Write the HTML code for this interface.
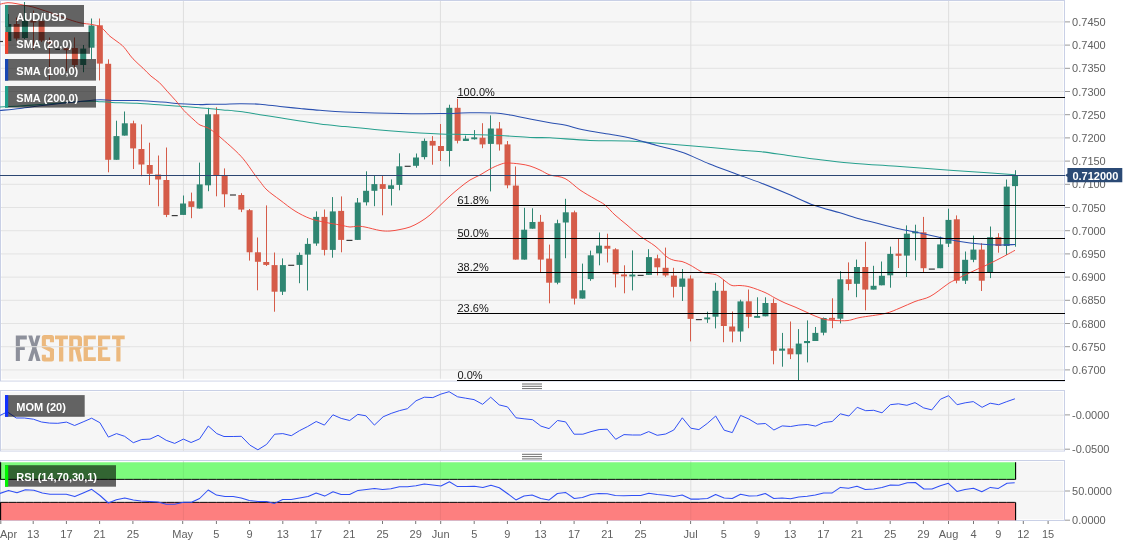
<!DOCTYPE html>
<html><head><meta charset="utf-8"><title>AUD/USD</title>
<style>
html,body{margin:0;padding:0;background:#ffffff;}
body{width:1135px;height:547px;overflow:hidden;font-family:"Liberation Sans",sans-serif;}
svg{display:block;will-change:transform;}
</style></head><body>
<svg width="1135" height="547" viewBox="0 0 1135 547" font-family="Liberation Sans, sans-serif">
<defs>
<clipPath id="cm"><rect x="0" y="0" width="1065" height="382"/></clipPath>
<clipPath id="cmo"><rect x="0" y="390" width="1065" height="62"/></clipPath>
<clipPath id="cr"><rect x="0" y="460" width="1065" height="61"/></clipPath>
</defs>
<rect x="0" y="0" width="1135" height="547" fill="#ffffff"/>
<rect x="0.5" y="0.5" width="1064.0" height="380.5" fill="#f6f6f6" stroke="#c9d0e6" stroke-width="1"/>
<rect x="1.5" y="1.5" width="1062.0" height="378.5" fill="none" stroke="#ffffff" stroke-opacity="0.75" stroke-width="1"/>
<rect x="0.5" y="390.5" width="1064.0" height="60.5" fill="#f6f6f6" stroke="#c9d0e6" stroke-width="1"/>
<rect x="1.5" y="391.5" width="1062.0" height="58.5" fill="none" stroke="#ffffff" stroke-opacity="0.75" stroke-width="1"/>
<rect x="0.5" y="460.5" width="1064.0" height="60.0" fill="#f6f6f6" stroke="#c9d0e6" stroke-width="1"/>
<rect x="1.5" y="461.5" width="1062.0" height="58.0" fill="none" stroke="#ffffff" stroke-opacity="0.75" stroke-width="1"/>
<g clip-path="url(#cm)">
<line x1="1" x2="1064" y1="21.9" y2="21.9" stroke="#e3e3e3" stroke-width="1"/>
<line x1="1" x2="1064" y1="45.1" y2="45.1" stroke="#e3e3e3" stroke-width="1"/>
<line x1="1" x2="1064" y1="68.3" y2="68.3" stroke="#e3e3e3" stroke-width="1"/>
<line x1="1" x2="1064" y1="91.5" y2="91.5" stroke="#e3e3e3" stroke-width="1"/>
<line x1="1" x2="1064" y1="114.7" y2="114.7" stroke="#e3e3e3" stroke-width="1"/>
<line x1="1" x2="1064" y1="137.9" y2="137.9" stroke="#e3e3e3" stroke-width="1"/>
<line x1="1" x2="1064" y1="161.1" y2="161.1" stroke="#e3e3e3" stroke-width="1"/>
<line x1="1" x2="1064" y1="184.3" y2="184.3" stroke="#e3e3e3" stroke-width="1"/>
<line x1="1" x2="1064" y1="207.5" y2="207.5" stroke="#e3e3e3" stroke-width="1"/>
<line x1="1" x2="1064" y1="230.7" y2="230.7" stroke="#e3e3e3" stroke-width="1"/>
<line x1="1" x2="1064" y1="253.9" y2="253.9" stroke="#e3e3e3" stroke-width="1"/>
<line x1="1" x2="1064" y1="277.1" y2="277.1" stroke="#e3e3e3" stroke-width="1"/>
<line x1="1" x2="1064" y1="300.3" y2="300.3" stroke="#e3e3e3" stroke-width="1"/>
<line x1="1" x2="1064" y1="323.5" y2="323.5" stroke="#e3e3e3" stroke-width="1"/>
<line x1="1" x2="1064" y1="346.7" y2="346.7" stroke="#e3e3e3" stroke-width="1"/>
<line x1="1" x2="1064" y1="369.9" y2="369.9" stroke="#e3e3e3" stroke-width="1"/>
<line x1="183.4" x2="183.4" y1="1" y2="380" stroke="#dedede" stroke-width="1"/>
<line x1="440.4" x2="440.4" y1="1" y2="380" stroke="#dedede" stroke-width="1"/>
<line x1="690.8" x2="690.8" y1="1" y2="380" stroke="#dedede" stroke-width="1"/>
<line x1="948.6" x2="948.6" y1="1" y2="380" stroke="#dedede" stroke-width="1"/>
</g>
<path fill="#8d909b" d="M15.8 335.6H26.8V339.5H19.9V346.5H24.8V350.1H19.9V361.0H15.8z"/><path fill="#8d909b" d="M28.2 335.6h4.0l2.1 7.6l2.1 -7.6h4.0l-4.0 12.5l4.1 12.9h-4.1l-2.1 -7.9l-2.1 7.9h-4.1l4.1 -12.9z"/><path fill="#ecb97e" d="M44.3 335.1H51.5Q54.0 335.1 54.0 337.6V342.2H49.9V339.2H45.9V345.0L54.0 349.0V359.1Q54.0 361.6 51.5 361.6H44.3Q41.8 361.6 41.8 359.1V354.7H45.9V357.6H49.9V351.8L41.8 347.7V337.6Q41.8 335.1 44.3 335.1z"/><path fill="#ecb97e" d="M55.0 335.6H67.9V339.3H63.3V361.4H59.0V339.3H55.0z"/><path fill="#ecb97e" fill-rule="evenodd" d="M69.2 335.6H78.4Q82.0 335.6 82.0 339.2V345.6Q82.0 348.4 79.7 349.2L82.1 361.4H78.0L75.0 349.8H73.3V361.4H69.2zM73.3 339.2H76.6Q77.8 339.2 77.8 340.4V345.0Q77.8 346.2 76.6 346.2H73.3z"/><path fill="#ecb97e" d="M83.6 335.6h12.2v3.7h-7.9v6.9h5.3v3.6h-5.3v7.5h7.9v3.8h-12.2z"/><path fill="#ecb97e" d="M98.0 335.6h12.2v3.7h-7.9v6.9h5.3v3.6h-5.3v7.5h7.9v3.8h-12.2z"/><path fill="#ecb97e" d="M112.0 335.6H124.7V339.3H120.5V361.4H116.3V339.3H112.0z"/>
<line x1="10" x2="130" y1="346.7" y2="346.7" stroke="#e3e3e3" stroke-width="1"/>
<rect x="1" y="378.8" width="1063" height="1.0" fill="#ffffff"/>
<g clip-path="url(#cm)" shape-rendering="auto">
<rect x="-3.00" y="40.90" width="6" height="1.2" fill="#3a3a3a"/>
<rect x="8" y="14.00" width="1" height="27.00" fill="#2f8672"/>
<rect x="5.32" y="24.00" width="6" height="17.00" fill="#2f8672"/>
<rect x="16" y="17.50" width="1" height="23.00" fill="#d55c49"/>
<rect x="13.64" y="24.00" width="6" height="14.50" fill="#d55c49"/>
<rect x="24" y="2.00" width="1" height="37.00" fill="#2f8672"/>
<rect x="21.96" y="21.00" width="6" height="17.00" fill="#2f8672"/>
<rect x="33" y="10.50" width="1" height="39.50" fill="#d55c49"/>
<rect x="30.28" y="20.55" width="6" height="1.90" fill="#d55c49"/>
<rect x="41" y="20.50" width="1" height="21.50" fill="#d55c49"/>
<rect x="38.60" y="21.00" width="6" height="19.50" fill="#d55c49"/>
<rect x="49" y="37.50" width="1" height="42.50" fill="#d55c49"/>
<rect x="46.92" y="41.30" width="6" height="1.90" fill="#d55c49"/>
<rect x="55.24" y="48.70" width="6" height="1.2" fill="#3a3a3a"/>
<rect x="66" y="48.50" width="1" height="22.70" fill="#d55c49"/>
<rect x="63.56" y="48.30" width="6" height="1.90" fill="#d55c49"/>
<rect x="74" y="37.50" width="1" height="30.50" fill="#d55c49"/>
<rect x="71.88" y="48.00" width="6" height="17.00" fill="#d55c49"/>
<rect x="83" y="45.00" width="1" height="27.20" fill="#2f8672"/>
<rect x="80.20" y="48.60" width="6" height="16.40" fill="#2f8672"/>
<rect x="91" y="18.50" width="1" height="40.70" fill="#2f8672"/>
<rect x="88.52" y="25.50" width="6" height="22.20" fill="#2f8672"/>
<rect x="99" y="18.50" width="1" height="61.90" fill="#d55c49"/>
<rect x="96.84" y="25.30" width="6" height="38.30" fill="#d55c49"/>
<rect x="108" y="59.30" width="1" height="113.00" fill="#d55c49"/>
<rect x="105.16" y="63.80" width="6" height="96.00" fill="#d55c49"/>
<rect x="116" y="120.70" width="1" height="39.10" fill="#2f8672"/>
<rect x="113.48" y="136.10" width="6" height="23.70" fill="#2f8672"/>
<rect x="124" y="111.50" width="1" height="24.10" fill="#2f8672"/>
<rect x="121.80" y="123.30" width="6" height="12.30" fill="#2f8672"/>
<rect x="133" y="120.70" width="1" height="48.30" fill="#d55c49"/>
<rect x="130.12" y="123.30" width="6" height="25.10" fill="#d55c49"/>
<rect x="141" y="124.40" width="1" height="51.80" fill="#d55c49"/>
<rect x="138.44" y="149.00" width="6" height="15.50" fill="#d55c49"/>
<rect x="149" y="142.70" width="1" height="42.30" fill="#d55c49"/>
<rect x="146.76" y="165.00" width="6" height="8.80" fill="#d55c49"/>
<rect x="158" y="155.50" width="1" height="50.80" fill="#d55c49"/>
<rect x="155.08" y="174.50" width="6" height="5.00" fill="#d55c49"/>
<rect x="166" y="147.50" width="1" height="69.60" fill="#d55c49"/>
<rect x="163.40" y="180.00" width="6" height="34.90" fill="#d55c49"/>
<rect x="171.72" y="215.00" width="6" height="1.2" fill="#3a3a3a"/>
<rect x="183" y="195.50" width="1" height="19.40" fill="#2f8672"/>
<rect x="180.04" y="203.50" width="6" height="11.40" fill="#2f8672"/>
<rect x="191" y="192.60" width="1" height="25.60" fill="#d55c49"/>
<rect x="188.36" y="201.30" width="6" height="5.60" fill="#d55c49"/>
<rect x="199" y="162.60" width="1" height="45.90" fill="#2f8672"/>
<rect x="196.68" y="184.40" width="6" height="24.10" fill="#2f8672"/>
<rect x="208" y="107.80" width="1" height="83.40" fill="#2f8672"/>
<rect x="205.00" y="114.30" width="6" height="71.00" fill="#2f8672"/>
<rect x="216" y="107.30" width="1" height="89.00" fill="#d55c49"/>
<rect x="213.32" y="114.30" width="6" height="60.70" fill="#d55c49"/>
<rect x="224" y="168.40" width="1" height="38.80" fill="#d55c49"/>
<rect x="221.64" y="175.60" width="6" height="18.70" fill="#d55c49"/>
<rect x="229.96" y="194.40" width="6" height="1.2" fill="#3a3a3a"/>
<rect x="241" y="193.20" width="1" height="18.90" fill="#d55c49"/>
<rect x="238.28" y="195.00" width="6" height="14.60" fill="#d55c49"/>
<rect x="249" y="209.00" width="1" height="51.60" fill="#d55c49"/>
<rect x="246.60" y="210.20" width="6" height="42.10" fill="#d55c49"/>
<rect x="257" y="237.50" width="1" height="52.80" fill="#d55c49"/>
<rect x="254.92" y="252.30" width="6" height="9.50" fill="#d55c49"/>
<rect x="266" y="205.40" width="1" height="60.60" fill="#d55c49"/>
<rect x="263.24" y="262.00" width="6" height="2.90" fill="#d55c49"/>
<rect x="274" y="252.50" width="1" height="59.20" fill="#d55c49"/>
<rect x="271.56" y="265.10" width="6" height="26.60" fill="#d55c49"/>
<rect x="282" y="258.40" width="1" height="36.60" fill="#2f8672"/>
<rect x="279.88" y="265.10" width="6" height="26.60" fill="#2f8672"/>
<rect x="288.20" y="264.70" width="6" height="1.2" fill="#3a3a3a"/>
<rect x="299" y="252.50" width="1" height="30.70" fill="#2f8672"/>
<rect x="296.52" y="254.90" width="6" height="10.00" fill="#2f8672"/>
<rect x="307" y="238.20" width="1" height="52.30" fill="#2f8672"/>
<rect x="304.84" y="243.90" width="6" height="10.70" fill="#2f8672"/>
<rect x="316" y="211.40" width="1" height="34.40" fill="#2f8672"/>
<rect x="313.16" y="216.90" width="6" height="26.60" fill="#2f8672"/>
<rect x="324" y="209.50" width="1" height="45.90" fill="#d55c49"/>
<rect x="321.48" y="216.90" width="6" height="33.00" fill="#d55c49"/>
<rect x="332" y="197.10" width="1" height="60.60" fill="#2f8672"/>
<rect x="329.80" y="211.40" width="6" height="38.50" fill="#2f8672"/>
<rect x="341" y="196.40" width="1" height="55.90" fill="#d55c49"/>
<rect x="338.12" y="210.90" width="6" height="29.00" fill="#d55c49"/>
<rect x="346.44" y="239.80" width="6" height="1.2" fill="#3a3a3a"/>
<rect x="357" y="198.00" width="1" height="41.90" fill="#2f8672"/>
<rect x="354.76" y="202.50" width="6" height="37.40" fill="#2f8672"/>
<rect x="366" y="171.30" width="1" height="34.20" fill="#2f8672"/>
<rect x="363.08" y="190.80" width="6" height="11.50" fill="#2f8672"/>
<rect x="374" y="175.40" width="1" height="30.80" fill="#2f8672"/>
<rect x="371.40" y="184.10" width="6" height="6.70" fill="#2f8672"/>
<rect x="382" y="175.40" width="1" height="39.90" fill="#d55c49"/>
<rect x="379.72" y="184.10" width="6" height="4.80" fill="#d55c49"/>
<rect x="391" y="179.40" width="1" height="26.10" fill="#2f8672"/>
<rect x="388.04" y="185.30" width="6" height="3.60" fill="#2f8672"/>
<rect x="399" y="153.30" width="1" height="37.00" fill="#2f8672"/>
<rect x="396.36" y="166.30" width="6" height="18.60" fill="#2f8672"/>
<rect x="404.68" y="165.70" width="6" height="1.2" fill="#3a3a3a"/>
<rect x="416" y="153.50" width="1" height="14.20" fill="#2f8672"/>
<rect x="413.00" y="157.50" width="6" height="8.30" fill="#2f8672"/>
<rect x="424" y="138.50" width="1" height="20.90" fill="#2f8672"/>
<rect x="421.32" y="140.90" width="6" height="16.20" fill="#2f8672"/>
<rect x="432" y="136.10" width="1" height="28.60" fill="#d55c49"/>
<rect x="429.64" y="140.90" width="6" height="4.70" fill="#d55c49"/>
<rect x="440" y="124.00" width="1" height="37.00" fill="#d55c49"/>
<rect x="437.96" y="146.00" width="6" height="5.00" fill="#d55c49"/>
<rect x="449" y="104.70" width="1" height="61.80" fill="#2f8672"/>
<rect x="446.28" y="107.80" width="6" height="43.20" fill="#2f8672"/>
<rect x="457" y="98.80" width="1" height="44.60" fill="#d55c49"/>
<rect x="454.60" y="107.80" width="6" height="33.00" fill="#d55c49"/>
<rect x="465" y="135.60" width="1" height="5.40" fill="#2f8672"/>
<rect x="462.92" y="138.60" width="6" height="2.40" fill="#2f8672"/>
<rect x="474" y="130.10" width="1" height="9.50" fill="#2f8672"/>
<rect x="471.24" y="137.35" width="6" height="1.90" fill="#2f8672"/>
<rect x="482" y="123.20" width="1" height="25.00" fill="#d55c49"/>
<rect x="479.56" y="137.70" width="6" height="6.70" fill="#d55c49"/>
<rect x="490" y="115.40" width="1" height="76.00" fill="#2f8672"/>
<rect x="487.88" y="128.50" width="6" height="15.40" fill="#2f8672"/>
<rect x="499" y="122.00" width="1" height="28.60" fill="#d55c49"/>
<rect x="496.20" y="128.50" width="6" height="15.90" fill="#d55c49"/>
<rect x="507" y="141.00" width="1" height="47.30" fill="#d55c49"/>
<rect x="504.52" y="144.40" width="6" height="40.90" fill="#d55c49"/>
<rect x="515" y="166.50" width="1" height="93.10" fill="#d55c49"/>
<rect x="512.84" y="185.60" width="6" height="74.00" fill="#d55c49"/>
<rect x="524" y="207.80" width="1" height="51.80" fill="#2f8672"/>
<rect x="521.16" y="229.70" width="6" height="29.90" fill="#2f8672"/>
<rect x="532" y="208.30" width="1" height="20.40" fill="#2f8672"/>
<rect x="529.48" y="222.00" width="6" height="6.70" fill="#2f8672"/>
<rect x="540" y="214.90" width="1" height="58.00" fill="#d55c49"/>
<rect x="537.80" y="221.80" width="6" height="37.80" fill="#d55c49"/>
<rect x="549" y="244.60" width="1" height="58.70" fill="#d55c49"/>
<rect x="546.12" y="258.60" width="6" height="24.10" fill="#d55c49"/>
<rect x="557" y="219.70" width="1" height="64.60" fill="#2f8672"/>
<rect x="554.44" y="223.20" width="6" height="59.50" fill="#2f8672"/>
<rect x="565" y="198.80" width="1" height="59.40" fill="#2f8672"/>
<rect x="562.76" y="212.30" width="6" height="10.20" fill="#2f8672"/>
<rect x="574" y="210.60" width="1" height="93.90" fill="#d55c49"/>
<rect x="571.08" y="212.30" width="6" height="86.30" fill="#d55c49"/>
<rect x="582" y="263.60" width="1" height="35.00" fill="#2f8672"/>
<rect x="579.40" y="290.30" width="6" height="8.30" fill="#2f8672"/>
<rect x="590" y="250.60" width="1" height="30.20" fill="#2f8672"/>
<rect x="587.72" y="255.30" width="6" height="23.80" fill="#2f8672"/>
<rect x="599" y="232.50" width="1" height="32.80" fill="#2f8672"/>
<rect x="596.04" y="245.60" width="6" height="7.80" fill="#2f8672"/>
<rect x="607" y="233.70" width="1" height="28.80" fill="#d55c49"/>
<rect x="604.36" y="245.80" width="6" height="2.90" fill="#d55c49"/>
<rect x="615" y="248.20" width="1" height="39.20" fill="#d55c49"/>
<rect x="612.68" y="249.30" width="6" height="25.00" fill="#d55c49"/>
<rect x="624" y="265.30" width="1" height="28.00" fill="#d55c49"/>
<rect x="621.00" y="274.45" width="6" height="1.90" fill="#d55c49"/>
<rect x="632" y="250.40" width="1" height="40.00" fill="#2f8672"/>
<rect x="629.32" y="274.55" width="6" height="1.90" fill="#2f8672"/>
<rect x="637.64" y="274.80" width="6" height="1.2" fill="#3a3a3a"/>
<rect x="648" y="249.20" width="1" height="25.70" fill="#2f8672"/>
<rect x="645.96" y="257.10" width="6" height="17.80" fill="#2f8672"/>
<rect x="657" y="254.70" width="1" height="20.70" fill="#d55c49"/>
<rect x="654.28" y="258.30" width="6" height="9.00" fill="#d55c49"/>
<rect x="665" y="247.60" width="1" height="29.20" fill="#d55c49"/>
<rect x="662.60" y="267.80" width="6" height="7.60" fill="#d55c49"/>
<rect x="673" y="267.80" width="1" height="29.70" fill="#d55c49"/>
<rect x="670.92" y="275.60" width="6" height="11.20" fill="#d55c49"/>
<rect x="682" y="269.00" width="1" height="32.00" fill="#2f8672"/>
<rect x="679.24" y="278.50" width="6" height="8.30" fill="#2f8672"/>
<rect x="690" y="275.40" width="1" height="66.00" fill="#d55c49"/>
<rect x="687.56" y="278.50" width="6" height="40.40" fill="#d55c49"/>
<rect x="695.88" y="319.00" width="6" height="1.2" fill="#3a3a3a"/>
<rect x="707" y="311.70" width="1" height="11.20" fill="#2f8672"/>
<rect x="704.20" y="317.45" width="6" height="1.90" fill="#2f8672"/>
<rect x="715" y="282.70" width="1" height="45.70" fill="#2f8672"/>
<rect x="712.52" y="290.80" width="6" height="25.90" fill="#2f8672"/>
<rect x="723" y="279.70" width="1" height="62.50" fill="#d55c49"/>
<rect x="720.84" y="290.80" width="6" height="35.20" fill="#d55c49"/>
<rect x="732" y="311.50" width="1" height="30.90" fill="#d55c49"/>
<rect x="729.16" y="326.50" width="6" height="5.00" fill="#d55c49"/>
<rect x="740" y="299.70" width="1" height="42.00" fill="#2f8672"/>
<rect x="737.48" y="301.40" width="6" height="30.10" fill="#2f8672"/>
<rect x="748" y="289.50" width="1" height="38.70" fill="#d55c49"/>
<rect x="745.80" y="301.30" width="6" height="15.50" fill="#d55c49"/>
<rect x="757" y="297.30" width="1" height="20.20" fill="#2f8672"/>
<rect x="754.12" y="315.95" width="6" height="1.90" fill="#2f8672"/>
<rect x="765" y="297.30" width="1" height="19.00" fill="#2f8672"/>
<rect x="762.44" y="303.00" width="6" height="13.30" fill="#2f8672"/>
<rect x="773" y="298.50" width="1" height="65.80" fill="#d55c49"/>
<rect x="770.76" y="303.00" width="6" height="47.80" fill="#d55c49"/>
<rect x="782" y="332.90" width="1" height="33.80" fill="#2f8672"/>
<rect x="779.08" y="348.60" width="6" height="2.10" fill="#2f8672"/>
<rect x="790" y="321.50" width="1" height="37.60" fill="#d55c49"/>
<rect x="787.40" y="348.40" width="6" height="5.90" fill="#d55c49"/>
<rect x="798" y="329.10" width="1" height="51.10" fill="#2f8672"/>
<rect x="795.72" y="343.60" width="6" height="10.70" fill="#2f8672"/>
<rect x="807" y="320.40" width="1" height="42.00" fill="#2f8672"/>
<rect x="804.04" y="341.00" width="6" height="2.10" fill="#2f8672"/>
<rect x="815" y="327.00" width="1" height="14.00" fill="#2f8672"/>
<rect x="812.36" y="332.90" width="6" height="8.10" fill="#2f8672"/>
<rect x="823" y="317.50" width="1" height="17.80" fill="#2f8672"/>
<rect x="820.68" y="318.00" width="6" height="14.70" fill="#2f8672"/>
<rect x="832" y="298.30" width="1" height="29.90" fill="#d55c49"/>
<rect x="829.00" y="317.85" width="6" height="1.90" fill="#d55c49"/>
<rect x="840" y="271.20" width="1" height="52.20" fill="#2f8672"/>
<rect x="837.32" y="279.30" width="6" height="39.40" fill="#2f8672"/>
<rect x="848" y="262.40" width="1" height="27.90" fill="#d55c49"/>
<rect x="845.64" y="279.30" width="6" height="4.70" fill="#d55c49"/>
<rect x="856" y="259.60" width="1" height="37.60" fill="#2f8672"/>
<rect x="853.96" y="267.00" width="6" height="16.80" fill="#2f8672"/>
<rect x="865" y="241.80" width="1" height="68.50" fill="#d55c49"/>
<rect x="862.28" y="267.00" width="6" height="22.60" fill="#d55c49"/>
<rect x="873" y="265.80" width="1" height="23.80" fill="#2f8672"/>
<rect x="870.60" y="285.80" width="6" height="3.80" fill="#2f8672"/>
<rect x="881" y="261.50" width="1" height="23.80" fill="#2f8672"/>
<rect x="878.92" y="275.80" width="6" height="9.50" fill="#2f8672"/>
<rect x="890" y="246.60" width="1" height="41.10" fill="#2f8672"/>
<rect x="887.24" y="253.90" width="6" height="21.40" fill="#2f8672"/>
<rect x="898" y="239.00" width="1" height="29.00" fill="#d55c49"/>
<rect x="895.56" y="253.60" width="6" height="2.20" fill="#d55c49"/>
<rect x="906" y="225.40" width="1" height="51.60" fill="#2f8672"/>
<rect x="903.88" y="233.70" width="6" height="21.90" fill="#2f8672"/>
<rect x="915" y="224.70" width="1" height="35.70" fill="#2f8672"/>
<rect x="912.20" y="231.45" width="6" height="1.90" fill="#2f8672"/>
<rect x="923" y="216.90" width="1" height="56.00" fill="#d55c49"/>
<rect x="920.52" y="232.30" width="6" height="35.90" fill="#d55c49"/>
<rect x="928.84" y="268.50" width="6" height="1.2" fill="#3a3a3a"/>
<rect x="940" y="236.60" width="1" height="31.60" fill="#2f8672"/>
<rect x="937.16" y="244.40" width="6" height="23.80" fill="#2f8672"/>
<rect x="948" y="208.70" width="1" height="38.30" fill="#2f8672"/>
<rect x="945.48" y="219.90" width="6" height="23.80" fill="#2f8672"/>
<rect x="956" y="215.40" width="1" height="67.90" fill="#d55c49"/>
<rect x="953.80" y="219.30" width="6" height="61.40" fill="#d55c49"/>
<rect x="965" y="251.50" width="1" height="32.50" fill="#2f8672"/>
<rect x="962.12" y="259.80" width="6" height="20.90" fill="#2f8672"/>
<rect x="973" y="235.60" width="1" height="26.60" fill="#2f8672"/>
<rect x="970.44" y="249.60" width="6" height="10.20" fill="#2f8672"/>
<rect x="981" y="243.20" width="1" height="47.80" fill="#d55c49"/>
<rect x="978.76" y="249.60" width="6" height="31.10" fill="#d55c49"/>
<rect x="990" y="226.50" width="1" height="51.60" fill="#2f8672"/>
<rect x="987.08" y="237.20" width="6" height="35.00" fill="#2f8672"/>
<rect x="998" y="233.20" width="1" height="19.50" fill="#d55c49"/>
<rect x="995.40" y="237.20" width="6" height="8.80" fill="#d55c49"/>
<rect x="1006" y="179.50" width="1" height="75.50" fill="#2f8672"/>
<rect x="1003.72" y="186.60" width="6" height="59.40" fill="#2f8672"/>
<rect x="1015" y="170.20" width="1" height="76.50" fill="#2f8672"/>
<rect x="1012.04" y="175.60" width="6" height="10.50" fill="#2f8672"/>
</g>
<g clip-path="url(#cm)">
<path fill="none" stroke="#27a08e" stroke-width="1.05" stroke-linejoin="round" d="M0.00 107.00C3.33 106.85 13.33 106.52 20.00 106.10C26.67 105.68 33.33 105.02 40.00 104.50C46.67 103.98 53.33 103.50 60.00 103.00C66.67 102.50 74.17 101.78 80.00 101.50C85.83 101.22 91.67 101.27 95.00 101.30C98.33 101.33 97.17 101.52 100.00 101.70C102.83 101.88 105.83 102.13 112.00 102.40C118.17 102.67 128.67 102.87 137.00 103.30C145.33 103.73 154.83 104.52 162.00 105.00C169.17 105.48 173.83 105.73 180.00 106.20C186.17 106.67 193.83 107.38 199.00 107.80C204.17 108.22 207.00 108.35 211.00 108.70C215.00 109.05 218.17 109.42 223.00 109.90C227.83 110.38 233.83 110.80 240.00 111.60C246.17 112.40 253.33 113.67 260.00 114.70C266.67 115.73 273.33 116.75 280.00 117.80C286.67 118.85 293.33 119.97 300.00 121.00C306.67 122.03 312.50 123.07 320.00 124.00C327.50 124.93 335.00 125.60 345.00 126.60C355.00 127.60 367.50 128.93 380.00 130.00C392.50 131.07 410.00 132.33 420.00 133.00C430.00 133.67 431.67 133.75 440.00 134.00C448.33 134.25 460.00 134.25 470.00 134.50C480.00 134.75 490.00 135.00 500.00 135.50C510.00 136.00 521.67 137.12 530.00 137.50C538.33 137.88 540.00 137.32 550.00 137.80C560.00 138.28 576.83 139.88 590.00 140.40C603.17 140.92 618.00 140.47 629.00 140.90C640.00 141.33 645.83 142.20 656.00 143.00C666.17 143.80 676.83 144.58 690.00 145.70C703.17 146.82 723.08 148.68 735.00 149.70C746.92 150.72 752.67 150.83 761.50 151.80C770.33 152.77 779.25 154.32 788.00 155.50C796.75 156.68 803.67 157.67 814.00 158.90C824.33 160.13 835.67 161.63 850.00 162.90C864.33 164.17 885.00 165.40 900.00 166.50C915.00 167.60 926.67 168.53 940.00 169.50C953.33 170.47 967.50 171.43 980.00 172.30C992.50 173.17 1009.17 174.30 1015.00 174.70"/>
<path fill="none" stroke="#2a50b0" stroke-width="1.05" stroke-linejoin="round" d="M0.00 110.50C3.33 110.15 13.33 109.18 20.00 108.40C26.67 107.62 33.33 106.62 40.00 105.80C46.67 104.98 53.33 104.23 60.00 103.50C66.67 102.77 73.33 102.03 80.00 101.40C86.67 100.77 94.67 99.85 100.00 99.70C105.33 99.55 105.83 100.35 112.00 100.50C118.17 100.65 128.67 100.33 137.00 100.60C145.33 100.87 154.83 101.58 162.00 102.10C169.17 102.62 173.83 103.28 180.00 103.70C186.17 104.12 193.83 104.52 199.00 104.60C204.17 104.68 207.00 104.25 211.00 104.20C215.00 104.15 218.17 104.38 223.00 104.30C227.83 104.22 233.83 103.72 240.00 103.70C246.17 103.68 253.33 103.73 260.00 104.20C266.67 104.67 273.33 105.78 280.00 106.50C286.67 107.22 293.33 107.87 300.00 108.50C306.67 109.13 312.50 109.72 320.00 110.30C327.50 110.88 331.67 111.47 345.00 112.00C358.33 112.53 384.17 113.23 400.00 113.50C415.83 113.77 428.33 113.72 440.00 113.60C451.67 113.48 460.83 112.90 470.00 112.80C479.17 112.70 488.33 112.63 495.00 113.00C501.67 113.37 504.17 114.00 510.00 115.00C515.83 116.00 523.33 117.72 530.00 119.00C536.67 120.28 544.00 121.65 550.00 122.70C556.00 123.75 560.50 124.12 566.00 125.30C571.50 126.48 575.67 128.30 583.00 129.80C590.33 131.30 602.33 132.97 610.00 134.30C617.67 135.63 621.33 135.98 629.00 137.80C636.67 139.62 647.17 142.78 656.00 145.20C664.83 147.62 673.17 149.22 682.00 152.30C690.83 155.38 700.17 160.18 709.00 163.70C717.83 167.22 726.25 170.15 735.00 173.40C743.75 176.65 752.67 179.77 761.50 183.20C770.33 186.63 779.25 190.33 788.00 194.00C796.75 197.67 805.33 202.07 814.00 205.20C822.67 208.33 832.33 210.50 840.00 212.80C847.67 215.10 853.33 217.13 860.00 219.00C866.67 220.87 873.33 222.33 880.00 224.00C886.67 225.67 893.33 227.50 900.00 229.00C906.67 230.50 913.33 231.58 920.00 233.00C926.67 234.42 933.33 236.08 940.00 237.50C946.67 238.92 953.33 240.42 960.00 241.50C966.67 242.58 973.33 243.42 980.00 244.00C986.67 244.58 994.17 244.92 1000.00 245.00C1005.83 245.08 1012.50 244.58 1015.00 244.50"/>
<path fill="none" stroke="#f2453a" stroke-width="0.95" stroke-linejoin="round" d="M0.00 4.20C1.33 3.95 5.33 2.80 8.00 2.70C10.67 2.60 13.28 3.17 16.00 3.60C18.72 4.03 21.47 4.73 24.30 5.30C27.13 5.87 30.22 6.30 33.00 7.00C35.78 7.70 38.17 8.58 41.00 9.50C43.83 10.42 47.17 11.50 50.00 12.50C52.83 13.50 55.33 14.50 58.00 15.50C60.67 16.50 62.33 17.28 66.00 18.50C69.67 19.72 75.67 21.80 80.00 22.80C84.33 23.80 88.67 23.85 92.00 24.50C95.33 25.15 97.83 25.62 100.00 26.70C102.17 27.78 103.33 29.40 105.00 31.00C106.67 32.60 107.83 34.43 110.00 36.30C112.17 38.17 115.67 40.37 118.00 42.20C120.33 44.03 121.50 44.53 124.00 47.30C126.50 50.07 129.83 55.32 133.00 58.80C136.17 62.28 140.00 65.32 143.00 68.20C146.00 71.08 148.27 73.70 151.00 76.10C153.73 78.50 156.63 80.00 159.40 82.60C162.17 85.20 164.87 88.68 167.60 91.70C170.33 94.72 173.07 97.55 175.80 100.70C178.53 103.85 180.97 107.38 184.00 110.60C187.03 113.82 191.33 117.60 194.00 120.00C196.67 122.40 197.83 123.75 200.00 125.00C202.17 126.25 205.00 126.58 207.00 127.50C209.00 128.42 209.83 128.92 212.00 130.50C214.17 132.08 215.17 132.70 220.00 137.00C224.83 141.30 235.17 149.97 241.00 156.30C246.83 162.63 251.83 170.80 255.00 175.00C258.17 179.20 258.00 179.00 260.00 181.50C262.00 184.00 263.67 186.92 267.00 190.00C270.33 193.08 275.33 196.50 280.00 200.00C284.67 203.50 290.00 207.92 295.00 211.00C300.00 214.08 305.00 216.62 310.00 218.50C315.00 220.38 320.00 221.22 325.00 222.30C330.00 223.38 335.83 224.22 340.00 225.00C344.17 225.78 347.17 226.80 350.00 227.00C352.83 227.20 354.50 226.20 357.00 226.20C359.50 226.20 361.17 226.28 365.00 227.00C368.83 227.72 375.83 229.83 380.00 230.50C384.17 231.17 386.67 231.17 390.00 231.00C393.33 230.83 396.67 230.17 400.00 229.50C403.33 228.83 406.67 228.25 410.00 227.00C413.33 225.75 416.67 224.00 420.00 222.00C423.33 220.00 426.67 217.75 430.00 215.00C433.33 212.25 436.67 208.67 440.00 205.50C443.33 202.33 446.67 199.00 450.00 196.00C453.33 193.00 456.67 190.17 460.00 187.50C463.33 184.83 466.67 182.08 470.00 180.00C473.33 177.92 476.67 176.83 480.00 175.00C483.33 173.17 486.67 170.75 490.00 169.00C493.33 167.25 497.17 165.50 500.00 164.50C502.83 163.50 503.67 163.08 507.00 163.00C510.33 162.92 516.17 163.50 520.00 164.00C523.83 164.50 526.67 165.00 530.00 166.00C533.33 167.00 536.67 168.50 540.00 170.00C543.33 171.50 545.83 173.58 550.00 175.00C554.17 176.42 560.00 176.00 565.00 178.50C570.00 181.00 575.00 186.58 580.00 190.00C585.00 193.42 590.83 196.50 595.00 199.00C599.17 201.50 601.67 202.33 605.00 205.00C608.33 207.67 611.33 211.67 615.00 215.00C618.67 218.33 622.83 221.50 627.00 225.00C631.17 228.50 635.33 232.50 640.00 236.00C644.67 239.50 650.50 242.50 655.00 246.00C659.50 249.50 663.67 254.58 667.00 257.00C670.33 259.42 672.50 259.75 675.00 260.50C677.50 261.25 679.50 260.75 682.00 261.50C684.50 262.25 687.00 263.42 690.00 265.00C693.00 266.58 697.50 269.67 700.00 271.00C702.50 272.33 702.50 272.42 705.00 273.00C707.50 273.58 712.50 273.83 715.00 274.50C717.50 275.17 718.33 275.92 720.00 277.00C721.67 278.08 723.00 279.58 725.00 281.00C727.00 282.42 729.50 284.75 732.00 285.50C734.50 286.25 737.00 285.25 740.00 285.50C743.00 285.75 745.83 285.83 750.00 287.00C754.17 288.17 760.83 290.67 765.00 292.50C769.17 294.33 771.67 296.25 775.00 298.00C778.33 299.75 781.67 301.50 785.00 303.00C788.33 304.50 791.67 305.58 795.00 307.00C798.33 308.42 801.67 310.00 805.00 311.50C808.33 313.00 811.67 314.67 815.00 316.00C818.33 317.33 821.67 318.75 825.00 319.50C828.33 320.25 831.17 320.33 835.00 320.50C838.83 320.67 843.83 321.00 848.00 320.50C852.17 320.00 853.83 318.67 860.00 317.50C866.17 316.33 878.33 315.08 885.00 313.50C891.67 311.92 895.00 310.00 900.00 308.00C905.00 306.00 910.00 303.42 915.00 301.50C920.00 299.58 925.00 299.08 930.00 296.50C935.00 293.92 941.67 288.33 945.00 286.00C948.33 283.67 948.17 283.58 950.00 282.50C951.83 281.42 953.50 280.75 956.00 279.50C958.50 278.25 961.83 276.53 965.00 275.00C968.17 273.47 971.67 271.83 975.00 270.30C978.33 268.77 980.83 267.78 985.00 265.80C989.17 263.82 995.00 260.98 1000.00 258.40C1005.00 255.82 1012.50 251.65 1015.00 250.30"/>
</g>
<line x1="457" x2="1065" y1="97.50" y2="97.50" stroke="#000000" stroke-width="1" shape-rendering="crispEdges"/>
<text x="457.5" y="96.2" font-size="11" fill="#151515">100.0%</text>
<line x1="457" x2="1065" y1="205.50" y2="205.50" stroke="#000000" stroke-width="1" shape-rendering="crispEdges"/>
<text x="457.5" y="204.2" font-size="11" fill="#151515">61.8%</text>
<line x1="457" x2="1065" y1="238.50" y2="238.50" stroke="#000000" stroke-width="1" shape-rendering="crispEdges"/>
<text x="457.5" y="237.2" font-size="11" fill="#151515">50.0%</text>
<line x1="457" x2="1065" y1="272.50" y2="272.50" stroke="#000000" stroke-width="1" shape-rendering="crispEdges"/>
<text x="457.5" y="270.5" font-size="11" fill="#151515">38.2%</text>
<line x1="457" x2="1065" y1="313.50" y2="313.50" stroke="#000000" stroke-width="1" shape-rendering="crispEdges"/>
<text x="457.5" y="311.5" font-size="11" fill="#151515">23.6%</text>
<line x1="457" x2="1065" y1="380.50" y2="380.50" stroke="#000000" stroke-width="1" shape-rendering="crispEdges"/>
<text x="457.5" y="378.5" font-size="11" fill="#151515">0.0%</text>
<line x1="0" x2="1065" y1="175.5" y2="175.5" stroke="#2b4672" stroke-width="1" shape-rendering="crispEdges"/>
<g clip-path="url(#cmo)">
<line x1="1" x2="1064" y1="415.2" y2="415.2" stroke="#e3e3e3" stroke-width="1"/>
<line x1="1" x2="1064" y1="449.4" y2="449.4" stroke="#e3e3e3" stroke-width="1"/>
<line x1="183.4" x2="183.4" y1="391" y2="451" stroke="#dedede" stroke-width="1"/>
<line x1="440.4" x2="440.4" y1="391" y2="451" stroke="#dedede" stroke-width="1"/>
<line x1="690.8" x2="690.8" y1="391" y2="451" stroke="#dedede" stroke-width="1"/>
<line x1="948.6" x2="948.6" y1="391" y2="451" stroke="#dedede" stroke-width="1"/>
<polyline fill="none" stroke="#3050f5" stroke-width="1.00" stroke-linejoin="round"  points="0.0,415.4 5.0,413.0 8.1,412.4 16.2,418.0 24.3,418.0 33.4,419.2 41.5,422.0 49.6,423.1 57.8,423.3 66.5,422.1 74.6,425.5 83.1,421.9 91.6,418.2 99.9,422.7 108.4,437.1 116.5,433.6 124.6,436.3 133.3,442.7 141.8,439.5 150.0,439.1 158.0,435.3 166.2,440.3 174.7,443.4 183.4,439.1 191.1,442.5 199.6,438.9 208.3,426.0 216.8,433.6 224.0,436.5 233.2,436.5 241.3,436.3 250.0,445.2 257.9,449.8 266.6,444.4 274.7,434.2 282.8,433.6 291.3,435.7 299.6,430.6 307.7,426.5 316.2,421.5 324.4,425.1 332.9,414.8 341.2,418.4 349.7,420.5 357.8,414.4 365.9,415.8 374.4,425.1 383.1,416.8 391.2,413.4 399.3,410.7 407.4,408.7 416.0,400.8 424.3,397.2 432.8,397.6 440.9,394.1 449.1,391.7 457.6,396.8 465.7,398.2 474.0,399.6 482.6,404.3 490.7,397.2 499.2,404.9 507.5,406.9 516.0,417.8 524.1,418.8 532.6,419.7 540.9,426.1 549.0,428.6 557.5,420.5 565.6,421.9 574.1,434.2 582.9,434.2 591.0,431.6 599.1,429.6 607.2,429.2 615.7,439.3 624.0,434.6 632.5,435.0 640.6,435.0 648.7,431.6 657.2,435.3 665.7,434.0 673.8,430.0 682.3,417.8 690.8,428.2 698.9,429.6 707.2,423.5 715.7,416.0 724.2,430.2 732.3,432.6 740.6,415.4 748.8,419.0 757.3,424.1 765.4,423.5 773.9,430.0 782.2,425.9 790.7,426.5 798.8,425.1 807.3,424.5 815.6,426.1 823.7,422.5 832.2,421.5 840.3,413.8 848.9,416.0 857.2,407.3 865.7,410.7 873.7,410.3 882.0,412.8 890.3,404.7 898.4,403.8 906.9,405.3 915.0,402.6 923.7,407.9 931.8,409.9 940.5,399.2 948.6,395.7 957.1,404.7 965.2,402.8 973.3,401.6 982.1,407.3 990.2,403.2 998.7,404.7 1006.8,401.6 1014.9,398.8"/>
</g>
<g clip-path="url(#cr)">
<line x1="1" x2="1064" y1="491.3" y2="491.3" stroke="#e3e3e3" stroke-width="1"/>
<line x1="183.4" x2="183.4" y1="461" y2="520" stroke="#dedede" stroke-width="1"/>
<line x1="440.4" x2="440.4" y1="461" y2="520" stroke="#dedede" stroke-width="1"/>
<line x1="690.8" x2="690.8" y1="461" y2="520" stroke="#dedede" stroke-width="1"/>
<line x1="948.6" x2="948.6" y1="461" y2="520" stroke="#dedede" stroke-width="1"/>
<rect x="0.5" y="462.3" width="1015.1" height="17.0" fill="#7dfb7d"/>
<rect x="0.5" y="502.5" width="1015.1" height="17.8" fill="#fd7f7f"/>
<line x1="183.4" x2="183.4" y1="462.3" y2="479" stroke="#000" stroke-opacity="0.06" stroke-width="1"/>
<line x1="183.4" x2="183.4" y1="503" y2="520" stroke="#000" stroke-opacity="0.06" stroke-width="1"/>
<line x1="440.4" x2="440.4" y1="462.3" y2="479" stroke="#000" stroke-opacity="0.06" stroke-width="1"/>
<line x1="440.4" x2="440.4" y1="503" y2="520" stroke="#000" stroke-opacity="0.06" stroke-width="1"/>
<line x1="690.8" x2="690.8" y1="462.3" y2="479" stroke="#000" stroke-opacity="0.06" stroke-width="1"/>
<line x1="690.8" x2="690.8" y1="503" y2="520" stroke="#000" stroke-opacity="0.06" stroke-width="1"/>
<line x1="948.6" x2="948.6" y1="462.3" y2="479" stroke="#000" stroke-opacity="0.06" stroke-width="1"/>
<line x1="948.6" x2="948.6" y1="503" y2="520" stroke="#000" stroke-opacity="0.06" stroke-width="1"/>
<path d="M0.6 462.3V479.4M1015.6 479.4V462.3" fill="none" stroke="#000" stroke-width="1.1"/>
<path d="M0.6 520.3V502.4M1015.6 502.4V520.3" fill="none" stroke="#000" stroke-width="1.1"/>
<path d="M0.4 479.4H1015.6M0.4 502.4H1015.6" stroke="#000" stroke-opacity="0.72" stroke-width="1"/>
<line x1="0.4" x2="1015.6" y1="479.4" y2="479.4" stroke="#000" stroke-opacity="0.6" stroke-width="1" stroke-dasharray="7.52 0.8" stroke-dashoffset="0"/>
<line x1="0.4" x2="1015.6" y1="502.4" y2="502.4" stroke="#000" stroke-opacity="0.6" stroke-width="1" stroke-dasharray="7.52 0.8" stroke-dashoffset="0"/>
<polyline fill="none" stroke="#3050f5" stroke-width="1.05" stroke-linejoin="round"  points="0.0,493.4 8.5,490.4 17.0,492.8 25.4,489.8 33.9,490.2 42.3,493.0 50.0,494.2 58.5,494.2 66.3,494.3 74.8,496.6 83.2,493.0 91.7,489.3 100.0,495.5 108.3,503.0 116.4,499.8 124.8,498.0 133.3,500.0 141.0,501.0 149.5,501.5 158.1,502.0 166.2,504.2 174.7,504.2 183.4,502.2 191.5,502.2 199.6,498.5 208.2,490.0 216.5,495.1 225.0,496.5 233.1,496.5 241.2,497.9 249.3,500.6 258.0,501.4 266.5,501.6 274.6,503.4 282.7,499.5 291.2,499.5 299.5,498.1 308.1,496.5 316.2,493.1 324.7,496.1 333.0,491.8 341.1,494.5 349.6,494.5 358.1,490.4 366.4,489.4 374.5,488.6 382.6,489.4 390.9,488.8 399.4,486.8 407.5,486.8 416.0,485.8 424.3,483.9 432.8,485.0 440.9,486.0 449.4,481.7 457.5,486.6 466.3,486.4 474.4,486.2 482.9,487.4 491.0,485.2 499.3,487.8 507.4,493.5 515.9,499.9 524.0,496.1 532.1,495.1 540.8,498.5 548.9,500.1 557.4,493.5 565.5,492.4 574.3,498.5 582.4,497.5 590.9,494.5 598.7,493.5 607.2,493.7 615.3,495.5 623.8,495.7 632.1,495.5 640.7,495.5 648.8,493.3 657.3,494.5 665.6,495.3 674.1,496.5 682.2,495.1 690.7,499.1 699.4,499.1 707.5,498.5 715.6,494.5 724.1,498.1 732.2,498.5 740.6,494.3 749.1,495.9 757.2,495.7 765.3,493.5 773.8,498.5 782.1,498.1 790.6,498.7 798.7,496.9 807.2,496.3 815.3,495.1 823.6,492.9 831.9,493.1 840.4,487.4 848.5,488.2 857.0,486.2 865.3,489.4 873.8,489.0 881.9,487.6 890.4,485.0 898.8,485.2 907.3,482.7 915.4,482.5 923.9,489.0 932.0,489.0 940.3,485.8 948.4,483.3 956.9,491.4 965.0,489.4 973.5,488.2 981.8,491.8 990.3,487.4 998.4,488.4 1007.0,483.3 1014.7,482.7"/>
</g>
<line x1="522" x2="542" y1="384.0" y2="384.0" stroke="#5c5c5c" stroke-width="0.9"/>
<line x1="522" x2="542" y1="386.3" y2="386.3" stroke="#5c5c5c" stroke-width="0.9"/>
<line x1="522" x2="542" y1="388.6" y2="388.6" stroke="#5c5c5c" stroke-width="0.9"/>
<line x1="522" x2="542" y1="454.3" y2="454.3" stroke="#5c5c5c" stroke-width="0.9"/>
<line x1="522" x2="542" y1="456.6" y2="456.6" stroke="#5c5c5c" stroke-width="0.9"/>
<line x1="522" x2="542" y1="458.9" y2="458.9" stroke="#5c5c5c" stroke-width="0.9"/>
<rect x="5.0" y="5.0" width="79.0" height="21.8" fill="#000000" fill-opacity="0.595"/>
<rect x="5.0" y="5.0" width="3.2" height="21.8" fill="#27937f"/>
<text x="16.3" y="20.75" font-size="11" font-weight="bold" fill="#ffffff">AUD/USD</text>
<rect x="5.0" y="32.0" width="85.0" height="21.8" fill="#000000" fill-opacity="0.595"/>
<rect x="5.0" y="32.0" width="3.2" height="21.8" fill="#f0432f"/>
<text x="16.3" y="47.90" font-size="11" font-weight="bold" fill="#ffffff">SMA (20,0)</text>
<rect x="5.0" y="59.0" width="91.0" height="21.6" fill="#000000" fill-opacity="0.595"/>
<rect x="5.0" y="59.0" width="3.2" height="21.6" fill="#1746b3"/>
<text x="16.3" y="74.90" font-size="11" font-weight="bold" fill="#ffffff">SMA (100,0)</text>
<rect x="5.0" y="86.0" width="91.0" height="21.6" fill="#000000" fill-opacity="0.595"/>
<rect x="5.0" y="86.0" width="3.2" height="21.6" fill="#1fa08c"/>
<text x="16.3" y="101.90" font-size="11" font-weight="bold" fill="#ffffff">SMA (200,0)</text>
<rect x="5.0" y="395.1" width="79.7" height="21.7" fill="#000000" fill-opacity="0.595"/>
<rect x="5.0" y="395.1" width="3.2" height="21.7" fill="#1030ff"/>
<text x="16.3" y="410.55" font-size="11" font-weight="bold" fill="#ffffff">MOM (20)</text>
<rect x="5.0" y="465.2" width="111.0" height="21.5" fill="#000000" fill-opacity="0.595"/>
<rect x="5.0" y="465.2" width="3.2" height="21.5" fill="#00f500"/>
<text x="16.3" y="480.55" font-size="11" font-weight="bold" fill="#ffffff">RSI (14,70,30,1)</text>
<line x1="1065" x2="1070" y1="21.9" y2="21.9" stroke="#999999" stroke-width="1"/>
<text x="1072.1" y="25.9" font-size="11" fill="#606060">0.7450</text>
<line x1="1065" x2="1070" y1="45.1" y2="45.1" stroke="#999999" stroke-width="1"/>
<text x="1072.1" y="49.1" font-size="11" fill="#606060">0.7400</text>
<line x1="1065" x2="1070" y1="68.3" y2="68.3" stroke="#999999" stroke-width="1"/>
<text x="1072.1" y="72.3" font-size="11" fill="#606060">0.7350</text>
<line x1="1065" x2="1070" y1="91.5" y2="91.5" stroke="#999999" stroke-width="1"/>
<text x="1072.1" y="95.5" font-size="11" fill="#606060">0.7300</text>
<line x1="1065" x2="1070" y1="114.7" y2="114.7" stroke="#999999" stroke-width="1"/>
<text x="1072.1" y="118.7" font-size="11" fill="#606060">0.7250</text>
<line x1="1065" x2="1070" y1="137.9" y2="137.9" stroke="#999999" stroke-width="1"/>
<text x="1072.1" y="141.9" font-size="11" fill="#606060">0.7200</text>
<line x1="1065" x2="1070" y1="161.1" y2="161.1" stroke="#999999" stroke-width="1"/>
<text x="1072.1" y="165.1" font-size="11" fill="#606060">0.7150</text>
<line x1="1065" x2="1070" y1="184.3" y2="184.3" stroke="#999999" stroke-width="1"/>
<text x="1072.1" y="188.3" font-size="11" fill="#606060">0.7100</text>
<line x1="1065" x2="1070" y1="207.5" y2="207.5" stroke="#999999" stroke-width="1"/>
<text x="1072.1" y="211.5" font-size="11" fill="#606060">0.7050</text>
<line x1="1065" x2="1070" y1="230.7" y2="230.7" stroke="#999999" stroke-width="1"/>
<text x="1072.1" y="234.7" font-size="11" fill="#606060">0.7000</text>
<line x1="1065" x2="1070" y1="253.9" y2="253.9" stroke="#999999" stroke-width="1"/>
<text x="1072.1" y="257.9" font-size="11" fill="#606060">0.6950</text>
<line x1="1065" x2="1070" y1="277.1" y2="277.1" stroke="#999999" stroke-width="1"/>
<text x="1072.1" y="281.1" font-size="11" fill="#606060">0.6900</text>
<line x1="1065" x2="1070" y1="300.3" y2="300.3" stroke="#999999" stroke-width="1"/>
<text x="1072.1" y="304.3" font-size="11" fill="#606060">0.6850</text>
<line x1="1065" x2="1070" y1="323.5" y2="323.5" stroke="#999999" stroke-width="1"/>
<text x="1072.1" y="327.5" font-size="11" fill="#606060">0.6800</text>
<line x1="1065" x2="1070" y1="346.7" y2="346.7" stroke="#999999" stroke-width="1"/>
<text x="1072.1" y="350.7" font-size="11" fill="#606060">0.6750</text>
<line x1="1065" x2="1070" y1="369.9" y2="369.9" stroke="#999999" stroke-width="1"/>
<text x="1072.1" y="373.9" font-size="11" fill="#606060">0.6700</text>
<line x1="1065" x2="1070" y1="414.9" y2="414.9" stroke="#999999" stroke-width="1"/>
<text x="1072.1" y="418.9" font-size="11" fill="#606060">-0.0000</text>
<line x1="1065" x2="1070" y1="449.2" y2="449.2" stroke="#999999" stroke-width="1"/>
<text x="1072.1" y="453.2" font-size="11" fill="#606060">-0.0500</text>
<line x1="1065" x2="1070" y1="491.0" y2="491.0" stroke="#999999" stroke-width="1"/>
<text x="1072.1" y="495.0" font-size="11" fill="#606060">50.0000</text>
<line x1="1065" x2="1070" y1="520.2" y2="520.2" stroke="#999999" stroke-width="1"/>
<text x="1072.1" y="524.2" font-size="11" fill="#606060">0.0000</text>
<path d="M1065.2 175.2L1067.4 173.5V167.9H1122.3V182.3H1067.4V176.9z" fill="#2b4a75"/>
<text x="1072.4" y="180.0" font-size="11" font-weight="bold" fill="#ffffff">0.712000</text>
<line x1="0.8" x2="0.8" y1="521" y2="524" stroke="#777777" stroke-width="1"/>
<text x="0" y="538" font-size="11" fill="#606060">Apr</text>
<line x1="33.2" x2="33.2" y1="521" y2="524" stroke="#777777" stroke-width="1"/>
<text x="33.2" y="538" font-size="11" fill="#606060" text-anchor="middle">13</text>
<line x1="66.4" x2="66.4" y1="521" y2="524" stroke="#777777" stroke-width="1"/>
<text x="66.4" y="538" font-size="11" fill="#606060" text-anchor="middle">17</text>
<line x1="99.6" x2="99.6" y1="521" y2="524" stroke="#777777" stroke-width="1"/>
<text x="99.6" y="538" font-size="11" fill="#606060" text-anchor="middle">21</text>
<line x1="132.9" x2="132.9" y1="521" y2="524" stroke="#777777" stroke-width="1"/>
<text x="132.9" y="538" font-size="11" fill="#606060" text-anchor="middle">25</text>
<line x1="182.7" x2="182.7" y1="521" y2="524" stroke="#777777" stroke-width="1"/>
<text x="182.7" y="538" font-size="11" fill="#606060" text-anchor="middle">May</text>
<line x1="216.4" x2="216.4" y1="521" y2="524" stroke="#777777" stroke-width="1"/>
<text x="216.4" y="538" font-size="11" fill="#606060" text-anchor="middle">5</text>
<line x1="249.6" x2="249.6" y1="521" y2="524" stroke="#777777" stroke-width="1"/>
<text x="249.6" y="538" font-size="11" fill="#606060" text-anchor="middle">9</text>
<line x1="282.8" x2="282.8" y1="521" y2="524" stroke="#777777" stroke-width="1"/>
<text x="282.8" y="538" font-size="11" fill="#606060" text-anchor="middle">13</text>
<line x1="316.0" x2="316.0" y1="521" y2="524" stroke="#777777" stroke-width="1"/>
<text x="316.0" y="538" font-size="11" fill="#606060" text-anchor="middle">17</text>
<line x1="349.2" x2="349.2" y1="521" y2="524" stroke="#777777" stroke-width="1"/>
<text x="349.2" y="538" font-size="11" fill="#606060" text-anchor="middle">21</text>
<line x1="382.5" x2="382.5" y1="521" y2="524" stroke="#777777" stroke-width="1"/>
<text x="382.5" y="538" font-size="11" fill="#606060" text-anchor="middle">25</text>
<line x1="415.7" x2="415.7" y1="521" y2="524" stroke="#777777" stroke-width="1"/>
<text x="415.7" y="538" font-size="11" fill="#606060" text-anchor="middle">29</text>
<line x1="440.7" x2="440.7" y1="521" y2="524" stroke="#777777" stroke-width="1"/>
<text x="440.7" y="538" font-size="11" fill="#606060" text-anchor="middle">Jun</text>
<line x1="474.2" x2="474.2" y1="521" y2="524" stroke="#777777" stroke-width="1"/>
<text x="474.2" y="538" font-size="11" fill="#606060" text-anchor="middle">5</text>
<line x1="507.4" x2="507.4" y1="521" y2="524" stroke="#777777" stroke-width="1"/>
<text x="507.4" y="538" font-size="11" fill="#606060" text-anchor="middle">9</text>
<line x1="540.6" x2="540.6" y1="521" y2="524" stroke="#777777" stroke-width="1"/>
<text x="540.6" y="538" font-size="11" fill="#606060" text-anchor="middle">13</text>
<line x1="574.1" x2="574.1" y1="521" y2="524" stroke="#777777" stroke-width="1"/>
<text x="574.1" y="538" font-size="11" fill="#606060" text-anchor="middle">17</text>
<line x1="607.3" x2="607.3" y1="521" y2="524" stroke="#777777" stroke-width="1"/>
<text x="607.3" y="538" font-size="11" fill="#606060" text-anchor="middle">21</text>
<line x1="640.5" x2="640.5" y1="521" y2="524" stroke="#777777" stroke-width="1"/>
<text x="640.5" y="538" font-size="11" fill="#606060" text-anchor="middle">25</text>
<line x1="690.6" x2="690.6" y1="521" y2="524" stroke="#777777" stroke-width="1"/>
<text x="690.6" y="538" font-size="11" fill="#606060" text-anchor="middle">Jul</text>
<line x1="723.8" x2="723.8" y1="521" y2="524" stroke="#777777" stroke-width="1"/>
<text x="723.8" y="538" font-size="11" fill="#606060" text-anchor="middle">5</text>
<line x1="757.0" x2="757.0" y1="521" y2="524" stroke="#777777" stroke-width="1"/>
<text x="757.0" y="538" font-size="11" fill="#606060" text-anchor="middle">9</text>
<line x1="790.2" x2="790.2" y1="521" y2="524" stroke="#777777" stroke-width="1"/>
<text x="790.2" y="538" font-size="11" fill="#606060" text-anchor="middle">13</text>
<line x1="823.4" x2="823.4" y1="521" y2="524" stroke="#777777" stroke-width="1"/>
<text x="823.4" y="538" font-size="11" fill="#606060" text-anchor="middle">17</text>
<line x1="857.0" x2="857.0" y1="521" y2="524" stroke="#777777" stroke-width="1"/>
<text x="857.0" y="538" font-size="11" fill="#606060" text-anchor="middle">21</text>
<line x1="890.2" x2="890.2" y1="521" y2="524" stroke="#777777" stroke-width="1"/>
<text x="890.2" y="538" font-size="11" fill="#606060" text-anchor="middle">25</text>
<line x1="923.4" x2="923.4" y1="521" y2="524" stroke="#777777" stroke-width="1"/>
<text x="923.4" y="538" font-size="11" fill="#606060" text-anchor="middle">29</text>
<line x1="948.5" x2="948.5" y1="521" y2="524" stroke="#777777" stroke-width="1"/>
<text x="948.5" y="538" font-size="11" fill="#606060" text-anchor="middle">Aug</text>
<line x1="973.5" x2="973.5" y1="521" y2="524" stroke="#777777" stroke-width="1"/>
<text x="973.5" y="538" font-size="11" fill="#606060" text-anchor="middle">4</text>
<line x1="998.3" x2="998.3" y1="521" y2="524" stroke="#777777" stroke-width="1"/>
<text x="998.3" y="538" font-size="11" fill="#606060" text-anchor="middle">9</text>
<line x1="1023.3" x2="1023.3" y1="521" y2="524" stroke="#777777" stroke-width="1"/>
<text x="1023.3" y="538" font-size="11" fill="#606060" text-anchor="middle">12</text>
<line x1="1048.1" x2="1048.1" y1="521" y2="524" stroke="#777777" stroke-width="1"/>
<text x="1048.1" y="538" font-size="11" fill="#606060" text-anchor="middle">15</text>
</svg>
</body></html>
